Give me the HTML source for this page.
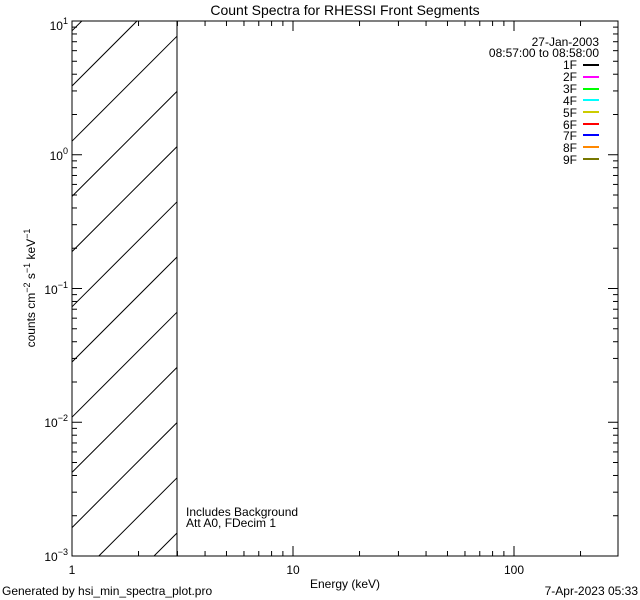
<!DOCTYPE html>
<html><head><meta charset="utf-8"><style>
html,body{margin:0;padding:0;background:#fff;width:640px;height:600px;overflow:hidden}
svg{display:block}
text{font-family:"Liberation Sans",sans-serif;fill:#000}
</style></head><body>
<svg id="s" width="640" height="600" xmlns="http://www.w3.org/2000/svg">
<rect width="640" height="600" fill="#fff"/>
<g id="hatch" stroke="#000" stroke-width="1"></g>
<rect x="72" y="21" width="546" height="535" fill="none" stroke="#000" stroke-width="1"/>
<line x1="177" y1="21" x2="177" y2="556" stroke="#000"/>
<g id="ticks" stroke="#000" stroke-width="1"></g>
<text x="345" y="15" font-size="14" text-anchor="middle">Count Spectra for RHESSI Front Segments</text>
<g font-size="12" text-anchor="end">
<text x="68" y="30">10<tspan font-size="9" dy="-6">1</tspan></text>
<text x="68" y="160">10<tspan font-size="9" dy="-6">0</tspan></text>
<text x="68" y="294">10<tspan font-size="9" dy="-6">−1</tspan></text>
<text x="68" y="427">10<tspan font-size="9" dy="-6">−2</tspan></text>
<text x="68" y="561">10<tspan font-size="9" dy="-6">−3</tspan></text>
</g>
<g font-size="12" text-anchor="middle">
<text x="72" y="574">1</text>
<text x="293" y="574">10</text>
<text x="514" y="574">100</text>
<text x="345" y="588">Energy (keV)</text>
</g>
<text transform="translate(35,288) rotate(-90)" font-size="12" text-anchor="middle">counts cm<tspan font-size="9" dy="-5">−2</tspan><tspan dy="5"> s</tspan><tspan font-size="9" dy="-5">−1</tspan><tspan dy="5"> keV</tspan><tspan font-size="9" dy="-5">−1</tspan></text>
<g font-size="12">
<text x="186" y="516">Includes Background</text>
<text x="186" y="527">Att A0, FDecim 1</text>
<text x="2" y="595">Generated by hsi_min_spectra_plot.pro</text>
<text x="638" y="595" text-anchor="end">7-Apr-2023 05:33</text>
</g>
<g font-size="12" text-anchor="end">
<text x="599" y="46">27-Jan-2003</text>
<text x="599" y="57">08:57:00 to 08:58:00</text>
<text x="577" y="69">1F</text><text x="577" y="81">2F</text><text x="577" y="93">3F</text>
<text x="577" y="105">4F</text><text x="577" y="117">5F</text><text x="577" y="129">6F</text>
<text x="577" y="140">7F</text><text x="577" y="152">8F</text><text x="577" y="164">9F</text>
</g>
<g stroke-width="2">
<line x1="583" x2="599" y1="65" y2="65" stroke="#000"/>
<line x1="583" x2="599" y1="77" y2="77" stroke="#f0f"/>
<line x1="583" x2="599" y1="89" y2="89" stroke="#0f0"/>
<line x1="583" x2="599" y1="100" y2="100" stroke="#0ff"/>
<line x1="583" x2="599" y1="112" y2="112" stroke="#cc0"/>
<line x1="583" x2="599" y1="124" y2="124" stroke="#f00"/>
<line x1="583" x2="599" y1="135" y2="135" stroke="#00f"/>
<line x1="583" x2="599" y1="147" y2="147" stroke="#f80"/>
<line x1="583" x2="599" y1="159" y2="159" stroke="#770"/>
</g>
</svg>
<script>
var ns="http://www.w3.org/2000/svg";
function L(g,x1,y1,x2,y2){var l=document.createElementNS(ns,"line");l.setAttribute("x1",x1);l.setAttribute("y1",y1);l.setAttribute("x2",x2);l.setAttribute("y2",y2);g.appendChild(l);}
var h=document.getElementById("hatch");
var X0=72,X1=177,Y0=21,Y1=556;
for(var k=-3;k<14;k++){
  var c=86+55.2*k; // line: y = c - (x-72)
  // start point (lower-left)
  var xs=X0, ys=c;
  if(ys>Y1){xs=X0+(ys-Y1);ys=Y1;}
  // end point (upper-right)
  var xe=X1, ye=c-(X1-X0);
  if(ye<Y0){xe=X0+(c-Y0);ye=Y0;}
  if(xs>=xe||ys<Y0||ye>Y1)continue;
  L(h,xs,ys,xe,ye);
}
var t=document.getElementById("ticks");
var L0=72,R=618,T=21,B=556,dx=221,dy=133.75;
for(var d=0;d<3;d++)for(var m=1;m<10;m++){var x=L0+dx*(d+Math.log10(m));if(x>R)break;var len=m==1?10:5;L(t,x,B,x,B-len);L(t,x,T,x,T+len);}
for(var d=0;d<4;d++)for(var m=1;m<10;m++){var y=B-dy*(d+Math.log10(m));if(y<T)break;var len=m==1?10:5;L(t,L0,y,L0+len,y);L(t,R,y,R-len,y);}
L(t,L0,T,L0+10,T);L(t,R,T,R-10,T);
</script>
</body></html>
